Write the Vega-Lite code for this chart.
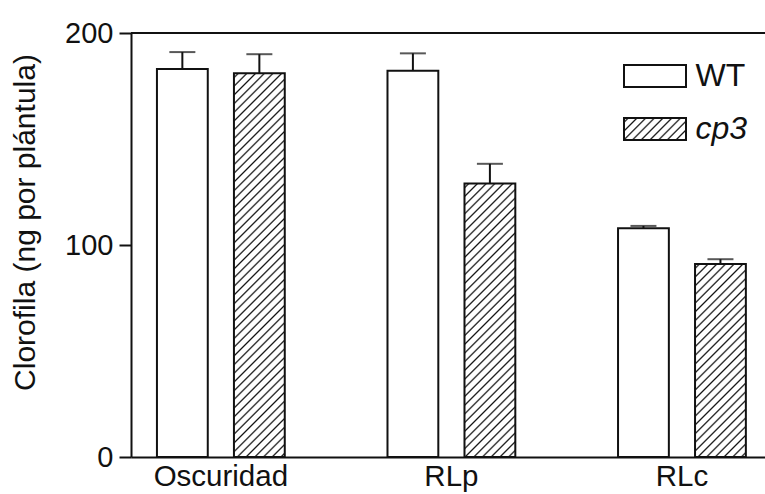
{
  "$schema": "https://vega.github.io/schema/vega-lite/v6.json",
  "width": 634,
  "height": 424,
  "autosize": {"type": "none"},
  "padding": {"left": 131, "top": 33, "right": 0, "bottom": 37},
  "background": "white",
  "config": {
    "view": {"stroke": null},
    "font": "Liberation Sans",
    "axis": {"domainColor": "#111", "domainWidth": 2, "tickColor": "#111", "tickWidth": 2, "labelColor": "#111", "titleColor": "#111", "grid": false, "labelFont": "Liberation Sans", "titleFont": "Liberation Sans"}
  },
  "params": [
    {"name": "hatch", "value": [
      {"offset":0.006,"color":"#fff"},{"offset":0.01,"color":"#111"},{"offset":0.014,"color":"#fff"},
      {"offset":0.026,"color":"#fff"},{"offset":0.03,"color":"#111"},{"offset":0.034,"color":"#fff"},
      {"offset":0.046,"color":"#fff"},{"offset":0.05,"color":"#111"},{"offset":0.054,"color":"#fff"},
      {"offset":0.066,"color":"#fff"},{"offset":0.07,"color":"#111"},{"offset":0.074,"color":"#fff"},
      {"offset":0.086,"color":"#fff"},{"offset":0.09,"color":"#111"},{"offset":0.094,"color":"#fff"},
      {"offset":0.106,"color":"#fff"},{"offset":0.11,"color":"#111"},{"offset":0.114,"color":"#fff"},
      {"offset":0.126,"color":"#fff"},{"offset":0.13,"color":"#111"},{"offset":0.134,"color":"#fff"},
      {"offset":0.146,"color":"#fff"},{"offset":0.15,"color":"#111"},{"offset":0.154,"color":"#fff"},
      {"offset":0.166,"color":"#fff"},{"offset":0.17,"color":"#111"},{"offset":0.174,"color":"#fff"},
      {"offset":0.186,"color":"#fff"},{"offset":0.19,"color":"#111"},{"offset":0.194,"color":"#fff"},
      {"offset":0.206,"color":"#fff"},{"offset":0.21,"color":"#111"},{"offset":0.214,"color":"#fff"},
      {"offset":0.226,"color":"#fff"},{"offset":0.23,"color":"#111"},{"offset":0.234,"color":"#fff"},
      {"offset":0.246,"color":"#fff"},{"offset":0.25,"color":"#111"},{"offset":0.254,"color":"#fff"},
      {"offset":0.266,"color":"#fff"},{"offset":0.27,"color":"#111"},{"offset":0.274,"color":"#fff"},
      {"offset":0.286,"color":"#fff"},{"offset":0.29,"color":"#111"},{"offset":0.294,"color":"#fff"},
      {"offset":0.306,"color":"#fff"},{"offset":0.31,"color":"#111"},{"offset":0.314,"color":"#fff"},
      {"offset":0.326,"color":"#fff"},{"offset":0.33,"color":"#111"},{"offset":0.334,"color":"#fff"},
      {"offset":0.346,"color":"#fff"},{"offset":0.35,"color":"#111"},{"offset":0.354,"color":"#fff"},
      {"offset":0.366,"color":"#fff"},{"offset":0.37,"color":"#111"},{"offset":0.374,"color":"#fff"},
      {"offset":0.386,"color":"#fff"},{"offset":0.39,"color":"#111"},{"offset":0.394,"color":"#fff"},
      {"offset":0.406,"color":"#fff"},{"offset":0.41,"color":"#111"},{"offset":0.414,"color":"#fff"},
      {"offset":0.426,"color":"#fff"},{"offset":0.43,"color":"#111"},{"offset":0.434,"color":"#fff"},
      {"offset":0.446,"color":"#fff"},{"offset":0.45,"color":"#111"},{"offset":0.454,"color":"#fff"},
      {"offset":0.466,"color":"#fff"},{"offset":0.47,"color":"#111"},{"offset":0.474,"color":"#fff"},
      {"offset":0.486,"color":"#fff"},{"offset":0.49,"color":"#111"},{"offset":0.494,"color":"#fff"},
      {"offset":0.506,"color":"#fff"},{"offset":0.51,"color":"#111"},{"offset":0.514,"color":"#fff"},
      {"offset":0.526,"color":"#fff"},{"offset":0.53,"color":"#111"},{"offset":0.534,"color":"#fff"},
      {"offset":0.546,"color":"#fff"},{"offset":0.55,"color":"#111"},{"offset":0.554,"color":"#fff"},
      {"offset":0.566,"color":"#fff"},{"offset":0.57,"color":"#111"},{"offset":0.574,"color":"#fff"},
      {"offset":0.586,"color":"#fff"},{"offset":0.59,"color":"#111"},{"offset":0.594,"color":"#fff"},
      {"offset":0.606,"color":"#fff"},{"offset":0.61,"color":"#111"},{"offset":0.614,"color":"#fff"},
      {"offset":0.626,"color":"#fff"},{"offset":0.63,"color":"#111"},{"offset":0.634,"color":"#fff"},
      {"offset":0.646,"color":"#fff"},{"offset":0.65,"color":"#111"},{"offset":0.654,"color":"#fff"},
      {"offset":0.666,"color":"#fff"},{"offset":0.67,"color":"#111"},{"offset":0.674,"color":"#fff"},
      {"offset":0.686,"color":"#fff"},{"offset":0.69,"color":"#111"},{"offset":0.694,"color":"#fff"},
      {"offset":0.706,"color":"#fff"},{"offset":0.71,"color":"#111"},{"offset":0.714,"color":"#fff"},
      {"offset":0.726,"color":"#fff"},{"offset":0.73,"color":"#111"},{"offset":0.734,"color":"#fff"},
      {"offset":0.746,"color":"#fff"},{"offset":0.75,"color":"#111"},{"offset":0.754,"color":"#fff"},
      {"offset":0.766,"color":"#fff"},{"offset":0.77,"color":"#111"},{"offset":0.774,"color":"#fff"},
      {"offset":0.786,"color":"#fff"},{"offset":0.79,"color":"#111"},{"offset":0.794,"color":"#fff"},
      {"offset":0.806,"color":"#fff"},{"offset":0.81,"color":"#111"},{"offset":0.814,"color":"#fff"},
      {"offset":0.826,"color":"#fff"},{"offset":0.83,"color":"#111"},{"offset":0.834,"color":"#fff"},
      {"offset":0.846,"color":"#fff"},{"offset":0.85,"color":"#111"},{"offset":0.854,"color":"#fff"},
      {"offset":0.866,"color":"#fff"},{"offset":0.87,"color":"#111"},{"offset":0.874,"color":"#fff"},
      {"offset":0.886,"color":"#fff"},{"offset":0.89,"color":"#111"},{"offset":0.894,"color":"#fff"},
      {"offset":0.906,"color":"#fff"},{"offset":0.91,"color":"#111"},{"offset":0.914,"color":"#fff"},
      {"offset":0.926,"color":"#fff"},{"offset":0.93,"color":"#111"},{"offset":0.934,"color":"#fff"},
      {"offset":0.946,"color":"#fff"},{"offset":0.95,"color":"#111"},{"offset":0.954,"color":"#fff"},
      {"offset":0.966,"color":"#fff"},{"offset":0.97,"color":"#111"},{"offset":0.974,"color":"#fff"},
      {"offset":0.986,"color":"#fff"},{"offset":0.99,"color":"#111"},{"offset":0.994,"color":"#fff"}
    ]}
  ],
  "data": {"values": [
    {"cond": "Oscuridad", "group": "WT", "chl": 183.0, "err": 191.0},
    {"cond": "Oscuridad", "group": "cp3", "chl": 181.0, "err": 190.0},
    {"cond": "RLp", "group": "WT", "chl": 182.2, "err": 190.4},
    {"cond": "RLp", "group": "cp3", "chl": 129.0, "err": 138.3},
    {"cond": "RLc", "group": "WT", "chl": 107.9, "err": 109.0},
    {"cond": "RLc", "group": "cp3", "chl": 91.0, "err": 93.3}
  ]},
  "layer": [
    {
      "mark": {"type": "rule", "color": "#111", "strokeWidth": 2},
      "encoding": {
        "x": {"field": "cond", "type": "nominal", "sort": ["Oscuridad", "RLp", "RLc"],
          "scale": {"paddingInner": 0.332, "paddingOuter": 0.041, "align": 0.68},
          "axis": {"title": null, "labelAngle": 0, "ticks": false, "tickSize": 0, "labelFontSize": 29.5, "labelPadding": 5, "domainWidth": 2}},
        "xOffset": {"field": "group", "type": "nominal", "sort": ["WT", "cp3"], "scale": {"paddingInner": 0.34, "paddingOuter": 0.17}},
        "y": {"field": "chl", "type": "quantitative", "scale": {"domain": [0, 200], "nice": false},
          "axis": {"title": "Clorofila (ng por plántula)", "values": [0, 100, 200], "tickSize": 12, "labelFontSize": 29, "labelPadding": 6, "titleFontSize": 30, "titleFontWeight": "normal", "titleX": -106, "titleY": 189, "titleBaseline": "middle", "titleAngle": -90, "titleAlign": "center"}},
        "y2": {"field": "err"}
      }
    },
    {
      "mark": {"type": "tick", "color": "#111", "size": 26, "thickness": 2},
      "encoding": {
        "x": {"field": "cond", "type": "nominal", "sort": ["Oscuridad", "RLp", "RLc"]},
        "xOffset": {"field": "group", "type": "nominal", "sort": ["WT", "cp3"]},
        "y": {"field": "err", "type": "quantitative"}
      }
    },
    {
      "mark": {"type": "bar", "stroke": "#111", "strokeWidth": 2},
      "encoding": {
        "x": {"field": "cond", "type": "nominal", "sort": ["Oscuridad", "RLp", "RLc"]},
        "xOffset": {"field": "group", "type": "nominal", "sort": ["WT", "cp3"]},
        "y": {"field": "chl", "type": "quantitative"},
        "fill": {"field": "group", "type": "nominal",
          "scale": {"domain": ["WT", "cp3"], "range": ["white", {"expr": "{gradient:'linear',x1:0,y1:0,x2:6.2309,y2:2.212,stops:hatch}"}]},
          "condition": {"test": "datum.group === 'cp3'", "value": {"expr": "{gradient:'linear',x1:0,y1:0,x2:435*bandwidth('xOffset')/(pow(bandwidth('xOffset'),2)+pow(scale('y',0)-scale('y',datum.chl),2)),y2:435*(scale('y',0)-scale('y',datum.chl))/(pow(bandwidth('xOffset'),2)+pow(scale('y',0)-scale('y',datum.chl),2)),stops:hatch}"}},
          "legend": {
            "orient": "none", "legendX": 507.5, "legendY": 26.5, "title": null, "padding": 0,
            "symbolType": "M-2,-0.71H2V0.71H-2Z", "symbolSize": 961, "symbolStrokeColor": "#111", "symbolStrokeWidth": 2, "symbolOpacity": 1,
            "labelFontSize": 32, "labelFont": "Liberation Sans", "labelColor": "#111", "labelOffset": 24, "rowPadding": 20,
            "encode": {
              "symbols": {"update": {"stroke": {"value": "#111"}, "strokeWidth": {"value": 2}, "opacity": {"value": 1}}},
              "labels": {"update": {"fontStyle": [{"test": "datum.value === 'cp3'", "value": "italic"}, {"value": "normal"}]}}
            }
          }
        }
      }
    },
    {
      "mark": {"type": "rule", "color": "#111", "strokeWidth": 2},
      "encoding": {"y": {"datum": 200}}
    }
  ]
}
